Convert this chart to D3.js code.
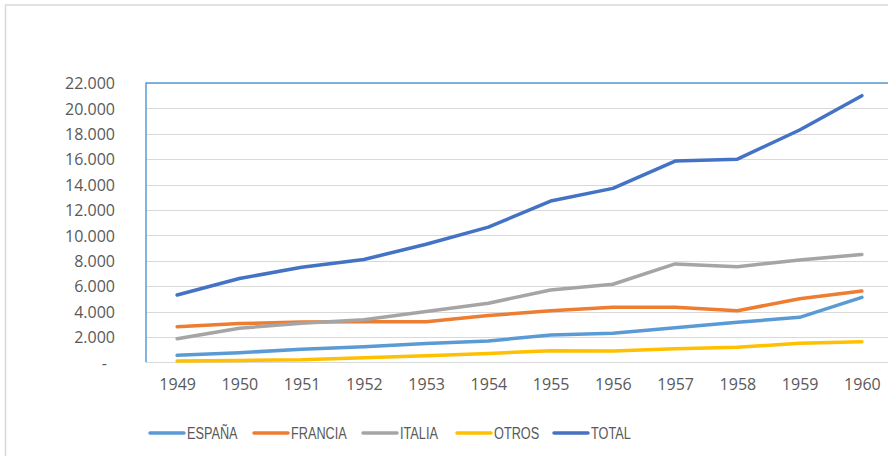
<!DOCTYPE html>
<html>
<head>
<meta charset="utf-8">
<script src="https://cdn.jsdelivr.net/npm/d3@7"></script>
<style>
  body { margin: 0; background: #fff; }
  svg { display: block; }
</style>
</head>
<body>
<div id="chart"></div>
<script>
const years = [1949, 1950, 1951, 1952, 1953, 1954, 1955, 1956, 1957, 1958, 1959, 1960];

const espana  = [550, 760, 1020, 1230, 1480, 1680, 2150, 2280, 2720, 3150, 3540, 5120];
const francia = [2800, 3050, 3170, 3200, 3200, 3680, 4060, 4330, 4330, 4060, 5010, 5610];
const italia  = [1850, 2680, 3080, 3350, 4000, 4650, 5700, 6150, 7750, 7530, 8060, 8500];
const otros   = [100, 150, 200, 360, 520, 700, 910, 890, 1070, 1180, 1500, 1620];
const total   = [5300, 6600, 7480, 8100, 9300, 10650, 12700, 13700, 15850, 16000, 18300, 21000];

const seriesNames = ["ESPAÑA", "FRANCIA", "ITALIA", "OTROS", "TOTAL"];
const seriesValues = [espana, francia, italia, otros, total];
const seriesColors = ["#5b9bd5", "#ed7d31", "#a5a5a5", "#ffc000", "#4472c4"];

const yTicks = [0, 2000, 4000, 6000, 8000, 10000, 12000, 14000, 16000, 18000, 20000, 22000];

const width = 888;
const height = 456;
const plot = { left: 146, right: 893, top: 83, bottom: 362.3 };

const svg = d3
  .select("#chart")
  .append("svg")
  .attr("width", width)
  .attr("height", height);

// outer chart frame (cropped on right and bottom)
svg.append("rect")
  .attr("x", 5.5)
  .attr("y", 5)
  .attr("width", 1000)
  .attr("height", 1000)
  .attr("fill", "none")
  .attr("stroke", "#d9d9d9")
  .attr("stroke-width", 1.5);

const x = d3.scalePoint()
  .domain(years)
  .range([plot.left, plot.right])
  .padding(0.5);

const y = d3.scaleLinear()
  .domain([0, 22000])
  .range([plot.bottom, plot.top]);

const es = d3.formatLocale({ decimal: ",", thousands: ".", grouping: [3], currency: ["", "€"] });
const fmt = es.format(",d");

// gridlines
svg.append("g")
  .selectAll("line")
  .data(yTicks)
  .enter()
  .append("line")
  .attr("x1", plot.left)
  .attr("x2", plot.right)
  .attr("y1", d => Math.round(y(d)) + 0.5)
  .attr("y2", d => Math.round(y(d)) + 0.5)
  .attr("stroke", "#d9d9d9")
  .attr("stroke-width", 1);

// blue plot-area border (top and left)
svg.append("path")
  .attr("d", `M${plot.right},${plot.top}H${plot.left}V${plot.bottom}`)
  .attr("fill", "none")
  .attr("stroke", "#5b9bd5")
  .attr("stroke-width", 1.5);

// y axis labels
const yAxis = d3.axisLeft(y)
  .tickValues(yTicks)
  .tickSize(0)
  .tickPadding(0)
  .tickFormat(d => d === 0 ? "-" : fmt(d));

svg.append("g")
  .attr("transform", "translate(115,0)")
  .call(yAxis)
  .call(g => g.select(".domain").remove())
  .call(g => g.selectAll("text")
    .attr("font-family", "'Open Sans', sans-serif")
    .attr("font-size", "16px")
    .attr("fill", "#595959")
    .attr("dy", "0.36em"))
  .call(g => g.selectAll("text").filter(d => d === 0).attr("x", -8));

// x axis labels
const xAxis = d3.axisBottom(x).tickSize(0).tickPadding(0);

svg.append("g")
  .attr("transform", `translate(0,${plot.bottom})`)
  .call(xAxis)
  .call(g => g.select(".domain").remove())
  .call(g => g.selectAll("text")
    .attr("font-family", "'Open Sans', sans-serif")
    .attr("font-size", "16px")
    .attr("fill", "#595959")
    .attr("y", 22)
    .attr("dy", "0.36em"));

// lines
const line = d3.line()
  .x((d, i) => x(years[i]))
  .y(d => y(d));

svg.append("g")
  .selectAll("path")
  .data(seriesValues)
  .enter()
  .append("path")
  .attr("d", d => line(d))
  .attr("fill", "none")
  .attr("stroke", (d, i) => seriesColors[i])
  .attr("stroke-width", 3.5)
  .attr("stroke-linecap", "round")
  .attr("stroke-linejoin", "round");

// legend
const legendX = [150, 254, 363, 457, 554];
const legend = svg.append("g")
  .selectAll("g")
  .data(seriesNames)
  .enter()
  .append("g")
  .attr("transform", (d, i) => `translate(${legendX[i]},433)`);

legend.append("line")
  .attr("x1", 0)
  .attr("x2", 34)
  .attr("stroke", (d, i) => seriesColors[i])
  .attr("stroke-width", 3.5)
  .attr("stroke-linecap", "round");

// condensed look: regular sans squeezed horizontally
legend.append("text")
  .attr("transform", "translate(37,0) scale(0.77,1)")
  .attr("dy", "0.36em")
  .attr("font-family", "'Liberation Sans', Arial, sans-serif")
  .attr("font-size", "16.5px")
  .attr("fill", "#595959")
  .text(d => d);
</script>
</body>
</html>
